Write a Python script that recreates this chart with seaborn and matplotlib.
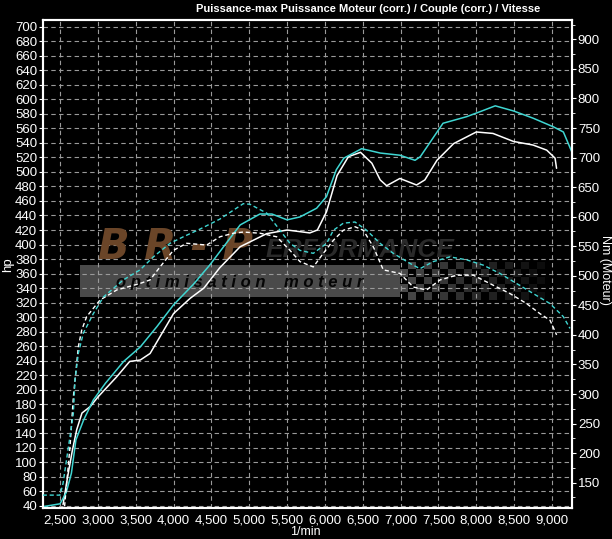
import numpy as np
import pandas as pd
import matplotlib
matplotlib.use("Agg")
import matplotlib.pyplot as plt
import matplotlib.ticker as mticker
from matplotlib.patches import Rectangle
import seaborn as sns

# Puissance (hp) - courbe optimisee (cyan) et origine (blanc)
rpm_pw_tuned = [2271, 2500, 2580, 2650, 2710, 2810, 2940, 3100, 3340, 3560, 3780, 4000,
                4260, 4480, 4610, 4880, 5140, 5300, 5500, 5670, 5890, 6020, 6150, 6250,
                6485, 6730, 6990, 7190, 7260, 7560, 7870, 8050, 8250, 8490, 8750, 9020,
                9150, 9260]
hp_tuned = [39, 43, 58, 85, 131, 158, 186, 209, 239, 259, 287, 317,
            345, 372, 390, 427, 442, 442, 434, 438, 450, 466, 503, 519,
            532, 526, 523, 516, 521, 567, 576, 583, 591, 584, 574, 562,
            555, 528]

rpm_pw_stock = [2540, 2600, 2660, 2720, 2790, 2900, 3000, 3250, 3420, 3560, 3690, 3820,
                4000, 4220, 4400, 4610, 4880, 5230, 5500, 5800, 5900, 6020, 6160, 6310,
                6470, 6620, 6730, 6815, 6990, 7210, 7320, 7480, 7700, 8000, 8220, 8490,
                8750, 8930, 9040, 9060]
hp_stock = [42, 80, 115, 145, 168, 177, 190, 218, 239, 241, 250, 273,
            305, 326, 340, 368, 397, 415, 420, 416, 420, 445, 495, 521,
            527, 512, 489, 481, 491, 482, 489, 516, 539, 555, 553, 542,
            537, 530, 519, 505]

# Couple (Nm) - optimise (cyan) et origine (blanc)
rpm_tq_tuned = [2271, 2500, 2540, 2676, 2698, 2742, 2808, 2940, 3072, 3336, 3557, 3733,
                3953, 4129, 4349, 4613, 4921, 5010, 5230, 5406, 5538, 5670, 5846, 6023,
                6111, 6243, 6397, 6551, 6727, 6903, 7123, 7255, 7431, 7651, 7872, 8092,
                8312, 8532, 8752, 8973, 9149, 9237]
nm_tuned = [129, 129, 149, 267, 324, 369, 403, 436, 464, 493, 510, 532,
            555, 566, 579, 596, 622, 621, 606, 577, 555, 543, 538, 555,
            577, 589, 591, 577, 555, 538, 521, 512, 524, 532, 527, 518,
            504, 487, 470, 453, 431, 411]

rpm_tq_stock = [2560, 2632, 2676, 2742, 2786, 2852, 3028, 3249, 3557, 3689, 3821, 3997,
                4173, 4437, 4613, 4789, 4921, 5142, 5362, 5538, 5670, 5846, 5978, 6111,
                6243, 6397, 6507, 6639, 6771, 6991, 7167, 7343, 7520, 7740, 7960, 8224,
                8444, 8664, 8840, 8973, 9061]
nm_stock = [110, 211, 295, 380, 408, 431, 459, 476, 487, 493, 515, 543,
            555, 552, 566, 572, 574, 572, 566, 543, 524, 515, 538, 560,
            577, 583, 577, 549, 510, 504, 481, 476, 493, 501, 501, 484,
            470, 453, 436, 425, 400]

x_ticks = [2500, 3000, 3500, 4000, 4500, 5000, 5500, 6000, 6500, 7000, 7500, 8000, 8500, 9000]
hp_ticks = list(range(40, 701, 20))
nm_ticks = list(range(150, 901, 50))

title = "Puissance-max Puissance Moteur (corr.) / Couple (corr.) / Vitesse"

sns.set_style("dark")
plt.rcParams['font.family'] = ['Liberation Sans', 'DejaVu Sans']

W, H = 612, 539
fig = plt.figure(figsize=(W / 100, H / 100), dpi=100, facecolor="black")
# plot box in pixels: left 42.7, right 572.3, top 20, bottom 508.3
L, R, T, B = 42.7, 572.3, 20.0, 508.3
ax = fig.add_axes([L / W, 1 - B / H, (R - L) / W, (B - T) / H])
ax.set_zorder(1)
ax.set_facecolor("none")

cyan = "#3fd6d2"
white = "#ffffff"
grid_c = "#9a9a9a"


# watermark logo (behind the curves)
def px_axes(px, py):
    return (px - L) / (R - L), (B - py) / (B - T)


x0, y0 = px_axes(80, 297)
x1, y1 = px_axes(400, 265)
ax.add_patch(Rectangle((x0, y0), x1 - x0, y1 - y0, transform=ax.transAxes,
                       facecolor="#4a4a4a", edgecolor="none", zorder=0.5))
tx, ty = px_axes(240, 282)
ax.text(tx, ty, "o p t i m i s a t i o n    m o t e u r", transform=ax.transAxes,
        ha="center", va="center", fontsize=12, fontstyle="italic", fontweight="bold",
        color="#050505", zorder=0.6)
tx, ty = px_axes(175, 247)
ax.text(tx, ty, "B R - P", transform=ax.transAxes, ha="center", va="center",
        family="DejaVu Sans", fontsize=30, fontstyle="italic", fontweight="bold",
        color="#6a4528", zorder=0.6)
tx, ty = px_axes(266, 250)
ax.text(tx, ty, "ERFORMANCE", transform=ax.transAxes, ha="left", va="center",
        fontsize=19, fontstyle="italic", fontweight="bold", color="#2a2a2a", zorder=0.6)

# checkered flag
cax = fig.add_axes([400 / W, 1 - 300 / H, 145 / W, 38 / H])
cax.set_zorder(0)
n_r, n_c = 5, 18
chk = (np.add.outer(np.arange(n_r), np.arange(n_c)) % 2).astype(float)
rgba = np.zeros((n_r, n_c, 4))
rgba[..., :3] = 0.32
rgba[..., 3] = chk * np.linspace(0.9, 0.15, n_c)[None, :]
cax.imshow(rgba, aspect="auto", interpolation="nearest")
cax.axis("off")

ax2 = ax.twinx()
ax2.set_facecolor("none")

df_pt = pd.DataFrame({"rpm": rpm_pw_tuned, "hp": hp_tuned})
df_ps = pd.DataFrame({"rpm": rpm_pw_stock, "hp": hp_stock})
df_tt = pd.DataFrame({"rpm": rpm_tq_tuned, "nm": nm_tuned})
df_ts = pd.DataFrame({"rpm": rpm_tq_stock, "nm": nm_stock})

sns.lineplot(data=df_ps, x="rpm", y="hp", ax=ax, color=white, lw=1.1, estimator=None, zorder=3)
sns.lineplot(data=df_pt, x="rpm", y="hp", ax=ax, color=cyan, lw=1.1, estimator=None, zorder=3)
sns.lineplot(data=df_ts, x="rpm", y="nm", ax=ax2, color=white, lw=1.0, estimator=None,
             zorder=3, dashes=False, linestyle=(0, (3, 2)))
sns.lineplot(data=df_tt, x="rpm", y="nm", ax=ax2, color=cyan, lw=1.0, estimator=None,
             zorder=3, dashes=False, linestyle=(0, (3, 2)))

ax.set_xlim(2271, 9268)
ax.set_ylim(36.8, 709.2)
ax2.set_ylim(106.7, 932.7)

ax.set_xticks(x_ticks)
ax.xaxis.set_minor_locator(mticker.MultipleLocator(100))
ax.xaxis.set_major_formatter(mticker.FuncFormatter(lambda v, p: f"{int(v):,}"))
ax.set_yticks(hp_ticks)
ax2.set_yticks(nm_ticks)
ax2.yaxis.set_minor_locator(mticker.MultipleLocator(25))

ax.grid(True, color=grid_c, linestyle=(0, (4, 3)), lw=0.8)
ax2.grid(False)
ax.set_xlabel("")
ax.set_ylabel("")
ax2.set_ylabel("")

for a in (ax, ax2):
    for s in a.spines.values():
        s.set_color("white")
        s.set_linewidth(1.5)
    a.tick_params(colors="white", labelcolor="white", labelsize=9.5, direction="out")
ax.tick_params(axis="y", length=3, pad=1, width=0.8)
ax.tick_params(axis="x", which="major", length=3, pad=1.5, width=0.8)
ax.tick_params(axis="x", which="minor", length=2, width=0.6, colors="white")
ax2.tick_params(axis="y", which="major", length=3, pad=1, width=0.8)
ax2.tick_params(axis="y", which="minor", length=2, width=0.6, colors="white")

fig.text(368 / W, 1 - 9 / H, title, ha="center", va="center", color="white",
         fontsize=8, fontweight="bold")
fig.text(8 / W, 1 - 265 / H, "hp", ha="center", va="center", color="white",
         fontsize=9.5, rotation=90)
fig.text(605 / W, 1 - 270 / H, "Nm (Moteur)", ha="center", va="center", color="white",
         fontsize=9, rotation=270)
fig.text(305 / W, 1 - 532 / H, "1/min", ha="center", va="center", color="white",
         fontsize=9)

fig.savefig("out.png", dpi=100, facecolor="black")
